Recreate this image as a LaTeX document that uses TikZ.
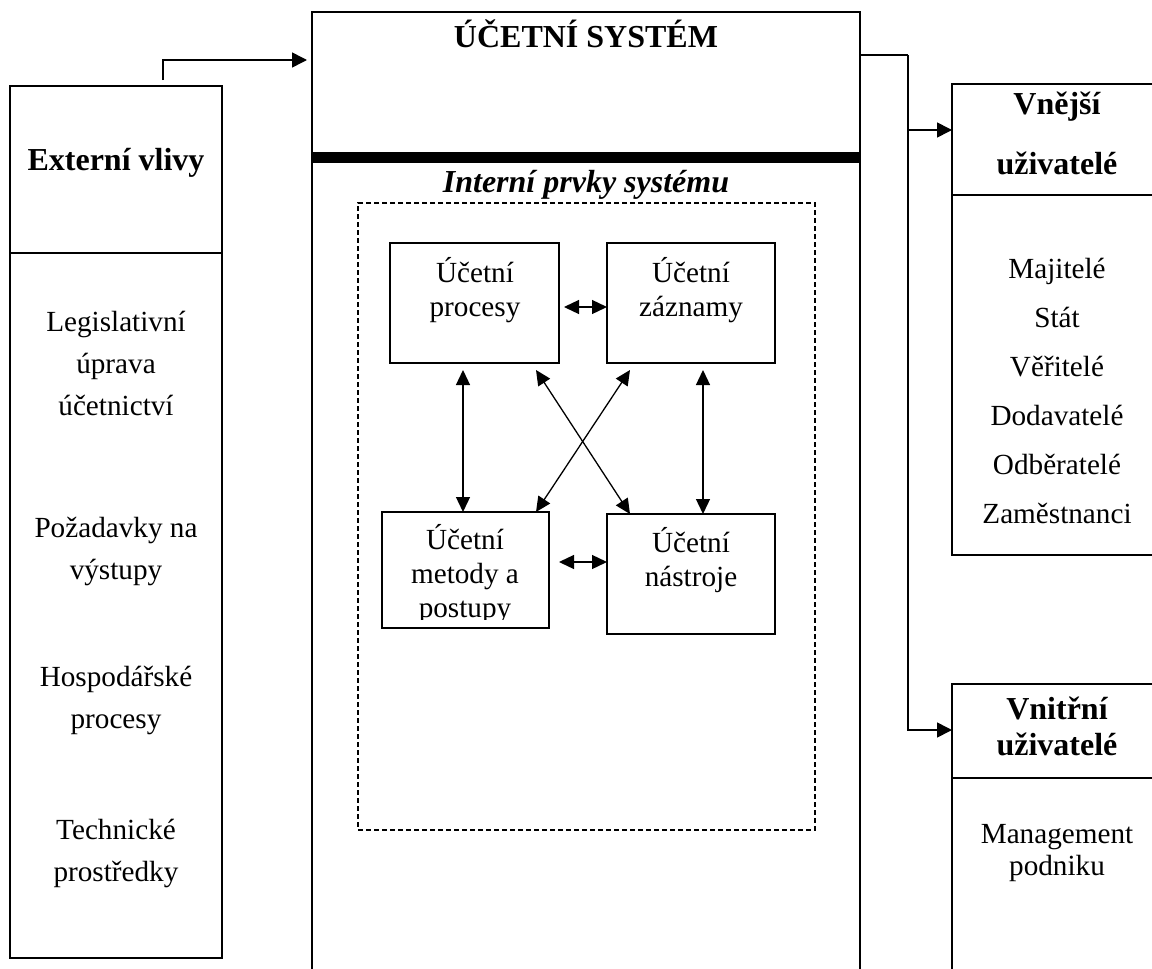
\documentclass[tikz,border=0pt]{standalone}
\usepackage{fontspec}
\setmainfont{Liberation Serif}
\usetikzlibrary{arrows.meta,positioning,calc}

\begin{document}
\begin{tikzpicture}[x=0.5pt,y=-0.5pt,
	box/.style={draw, line width=1.1pt, inner sep=0pt, outer sep=0pt},
	ibox/.style={draw, line width=0.85pt, inner sep=0pt, outer sep=0pt},
	txt/.style={align=center, inner sep=0pt, font=\fontsize{14.6}{#1}\selectfont},
	txt/.default=21,
	head/.style={align=center, inner sep=0pt, font=\fontsize{16}{#1}\selectfont\bfseries},
	head/.default=19,
	conn/.style={line width=0.8pt, -{Triangle[length=7.5pt,width=7.5pt]}},
	link/.style={line width=0.65pt, {Triangle[length=7.5pt,width=7pt]}-{Triangle[length=7.5pt,width=7pt]}}]
	\useasboundingbox (0,0) rectangle (1152,969);
	% externi vlivy
	\node[box, minimum width=106pt, minimum height=436pt] (ext) at (116,522) {};
	\draw[line width=1.1pt] (ext.west |- 0,253) -- (ext.east |- 0,253);
	\node[head] (ext-t) at (116,163) {Externí vlivy};
	\node[txt] (legis) at (116,363) {Legislativní\\úprava\\účetnictví};
	\node[txt] (pozad) at (116,551) {Požadavky na\\výstupy};
	\node[txt] (hosp) at (116,700) {Hospodářské\\procesy};
	\node[txt] (tech) at (116,853) {Technické\\prostředky};
	% ucetni system
	\node[box, minimum width=274pt, minimum height=489pt] (sys) at (586,501) {};
	\node[head] (sys-t) at (586,34) {ÚČETNÍ SYSTÉM};
	\draw[line width=5.5pt] (sys.west |- 0,157) -- (sys.east |- 0,157);
	\node[head, font=\fontsize{16}{19}\selectfont\bfseries\itshape] (int-t) at (586,185) {Interní prvky systému};
	\node[draw, line width=1pt, outer sep=0pt, dash pattern=on 2.5pt off 1.5pt, minimum width=228.5pt, minimum height=313.5pt] (intern) at (586.5,516.5) {};
	\node[ibox, minimum width=84.5pt, minimum height=60pt] (proc) at (474.5,303) {};
	\node[ibox, minimum width=84pt, minimum height=60pt] (zazn) at (691,303) {};
	\node[ibox, minimum width=83.5pt, minimum height=58pt] (meto) at (465.5,570) {};
	\node[ibox, minimum width=84pt, minimum height=60pt] (nast) at (691,574) {};
	\node[txt=17] (proc-t) at (475,290) {Účetní\\procesy};
	\node[txt=17] (zazn-t) at (691,290) {Účetní\\záznamy};
	\begin{scope}
		\clip (382,512) rectangle (549,619);
		\node[txt=17] (meto-t) at (465,574) {Účetní\\metody a\\postupy};
	\end{scope}
	\node[txt=17] (nast-t) at (691,560) {Účetní\\nástroje};
	\draw[link, shorten <=2.5pt] ([yshift=-2pt]proc.east) -- ([yshift=-2pt]proc.east -| zazn.west);
	\draw[link, shorten <=5pt] ([yshift=4pt]meto.east) -- ([yshift=4pt]meto.east -| nast.west);
	\draw[link, shorten <=3.5pt] ([xshift=-5.75pt]proc.south) -- ([xshift=-5.75pt]proc.south |- meto.north);
	\draw[link, shorten <=3.5pt] ([xshift=6pt]zazn.south) -- ([xshift=6pt]zazn.south |- nast.north);
	\draw[link] ([xshift=30.75pt,yshift=-3.5pt]proc.south) -- ([xshift=-30.5pt]nast.north);
	\draw[link] ([xshift=-30.5pt,yshift=-3.5pt]zazn.south) -- ([xshift=35.25pt]meto.north);
	% uzivatele
	\node[box, minimum width=106pt, minimum height=235.5pt] (vext) at (1058,319.5) {};
	\draw[line width=1.1pt] (vext.west |- 0,195) -- (vext.east |- 0,195);
	\node[head=30] (vext-t) at (1057,133) {Vnější\\uživatelé};
	\node[txt=24.5] (vext-l) at (1057,391) {Majitelé\\Stát\\Věřitelé\\Dodavatelé\\Odběratelé\\Zaměstnanci};
	\node[box, minimum width=106pt, minimum height=158pt] (vint) at (1058,842) {};
	\draw[line width=1.1pt] (vint.west |- 0,778) -- (vint.east |- 0,778);
	\node[head=18] (vint-t) at (1057,726) {Vnitřní\\uživatelé};
	\node[txt=16] (vint-l) at (1057,853) {Management\\podniku};
	% spojnice
	\draw[conn, shorten >=2.5pt] ([xshift=23.5pt,yshift=3pt]ext.north) |- ([yshift=-24pt]sys.north west);
	\coordinate (split) at (908,55);
	\draw[line width=0.8pt] ([yshift=-21.5pt]sys.north east) -- (split);
	\draw[conn] (split) |- ([yshift=-23pt]vext.north west);
	\draw[conn] (split) |- ([yshift=-23pt]vint.north west);
\end{tikzpicture}
\end{document}
